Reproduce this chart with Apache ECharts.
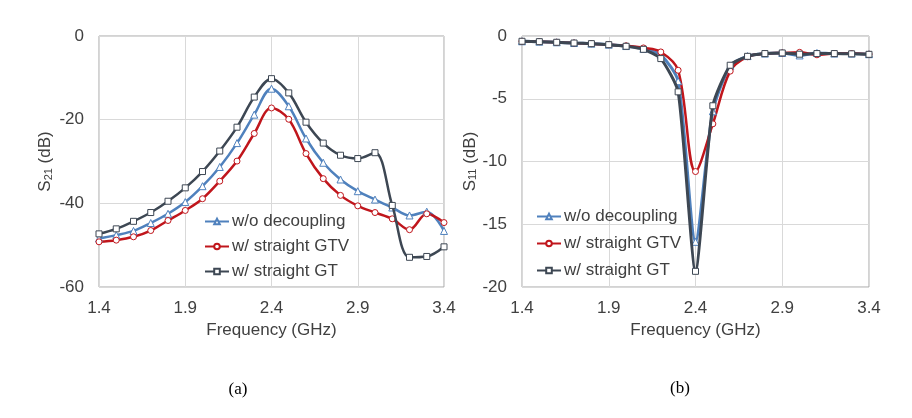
<!DOCTYPE html>
<html>
<head>
<meta charset="utf-8">
<script src="https://cdn.jsdelivr.net/npm/echarts@6/dist/echarts.min.js"></script>
<style>
html,body{margin:0;padding:0;background:#fff;}
#chart{width:912px;height:418px;}
</style>
</head>
<body>
<div id="chart"></div>
<script>
var freq = ['1.4','1.5','1.6','1.7','1.8','1.9','2.0','2.1','2.2','2.3','2.4','2.5','2.6','2.7','2.8','2.9','3.0','3.1','3.2','3.3','3.4'];
var names = ['w/o decoupling','w/ straight GTV','w/ straight GT'];

// S21 (dB)
var s21_wo  = [-48.4,-47.6,-46.6,-44.7,-42.5,-39.7,-35.9,-31.3,-25.6,-18.8,-12.6,-16.8,-24.5,-30.3,-34.3,-37.1,-39.1,-41.0,-42.9,-42.0,-46.6];
var s21_gtv = [-49.2,-48.8,-48.0,-46.5,-44.1,-41.7,-38.9,-34.7,-29.9,-23.3,-17.2,-19.9,-28.1,-34.1,-38.1,-40.6,-42.2,-43.7,-46.3,-42.5,-44.6];
var s21_gt  = [-47.3,-46.1,-44.3,-42.2,-39.5,-36.3,-32.4,-27.5,-21.8,-14.6,-10.2,-13.6,-20.6,-25.6,-28.5,-29.3,-27.9,-40.5,-52.9,-52.7,-50.4];

// S11 (dB)
var s11_wo  = [-0.42,-0.45,-0.50,-0.56,-0.61,-0.69,-0.80,-1.02,-1.50,-3.60,-16.4,-6.0,-2.4,-1.6,-1.4,-1.35,-1.55,-1.35,-1.4,-1.4,-1.45];
var s11_gtv = [-0.42,-0.45,-0.50,-0.56,-0.61,-0.69,-0.78,-0.95,-1.27,-2.73,-10.8,-7.0,-2.8,-1.65,-1.4,-1.35,-1.3,-1.5,-1.4,-1.4,-1.45];
var s11_gt  = [-0.42,-0.45,-0.50,-0.56,-0.61,-0.69,-0.82,-1.06,-1.80,-4.45,-18.75,-5.56,-2.33,-1.62,-1.40,-1.35,-1.45,-1.40,-1.40,-1.42,-1.46];

var yTicksA = [0,-20,-40,-60];
var yTicksB = [0,-5,-10,-15,-20];

var colors = ['#4f81bd','#c0161c','#3d4753'];
var symbols = ['triangle','circle','rect'];
var FONT = 'Liberation Sans, Arial, sans-serif';
var TXT = '#404040';

function xAxis(gi){
  return {
    type:'category', gridIndex:gi, data:freq, boundaryGap:false,
    axisLine:{show:false}, axisTick:{show:false},
    axisLabel:{interval:4, color:TXT, fontSize:17, fontFamily:FONT, margin:13},
    splitLine:{show:true, interval:4, lineStyle:{color:'#d9d9d9', width:1}},
    name:'Frequency (GHz)', nameLocation:'middle', nameGap:35,
    nameTextStyle:{color:TXT, fontSize:17, fontFamily:FONT}
  };
}
function yAxis(gi, ticks, sub, gap){
  return {
    type:'value', gridIndex:gi,
    min:ticks[ticks.length-1], max:ticks[0], interval:ticks[0]-ticks[1],
    axisLine:{show:false}, axisTick:{show:false},
    axisLabel:{color:TXT, fontSize:17, fontFamily:FONT, margin:15},
    splitLine:{show:true, lineStyle:{color:'#d9d9d9', width:1}},
    name:'{a|S}{b|'+sub+'}{a| (dB)}', nameLocation:'middle', nameGap:gap,
    nameTextStyle:{color:TXT, fontFamily:FONT,
      rich:{a:{fontSize:17, color:TXT, fontFamily:FONT, verticalAlign:'bottom', lineHeight:20},
            b:{fontSize:11, color:TXT, fontFamily:FONT, verticalAlign:'bottom', lineHeight:14}}}
  };
}
function mk(gi, idx, data, width, smooth){
  return {
    name:names[idx], type:'line', xAxisIndex:gi, yAxisIndex:gi, data:data,
    smooth:smooth, symbol:symbols[idx], symbolSize:idx===0?7:6, showSymbol:true,
    lineStyle:{color:colors[idx], width:width},
    itemStyle:{color:'#ffffff', borderColor:colors[idx], borderWidth:1},
    z: idx===2?4:3, animation:false
  };
}

var chart = echarts.init(document.getElementById('chart'), null, {renderer:'canvas'});
chart.setOption({
  animation:false,
  backgroundColor:'#ffffff',
  grid:[
    {left:99, top:36, width:345, height:251, show:true, borderColor:'#a6a6a6', borderWidth:1, backgroundColor:'transparent'},
    {left:522, top:36, width:347, height:251, show:true, borderColor:'#a6a6a6', borderWidth:1, backgroundColor:'transparent'}
  ],
  xAxis:[xAxis(0), xAxis(1)],
  yAxis:[yAxis(0, yTicksA, '21', 45), yAxis(1, yTicksB, '11', 41)],
  legend:[
    {data:names, orient:'vertical', left:199, top:208, itemWidth:24, itemHeight:7, itemGap:8,
     textStyle:{color:TXT, fontSize:17, fontFamily:FONT, padding:[0,0,0,-2]}, selectedMode:false},
    {data:names, orient:'vertical', left:531, top:203, itemWidth:24, itemHeight:7, itemGap:10,
     textStyle:{color:TXT, fontSize:17, fontFamily:FONT, padding:[0,0,0,-2]}, selectedMode:false}
  ],
  graphic:[
    {type:'text', x:238, y:390, style:{text:'(a)', font:'17px "Liberation Serif", "Times New Roman", serif', fill:'#000', textAlign:'center', textVerticalAlign:'middle'}},
    {type:'text', x:680, y:389, style:{text:'(b)', font:'17px "Liberation Serif", "Times New Roman", serif', fill:'#000', textAlign:'center', textVerticalAlign:'middle'}}
  ],
  series:[
    mk(0,0,s21_wo,2.5,0.35), mk(0,1,s21_gtv,2.5,0.35), mk(0,2,s21_gt,2.5,0.35),
    mk(1,0,s11_wo,3,0.25), mk(1,1,s11_gtv,2.5,0.35), mk(1,2,s11_gt,3,0.2)
  ]
});
</script>
</body>
</html>
